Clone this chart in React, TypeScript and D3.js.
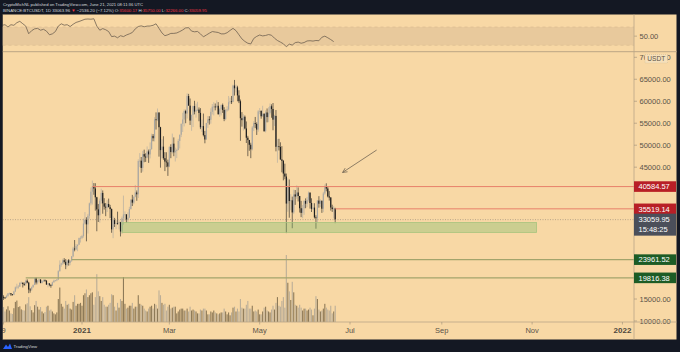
import React from 'react';
import * as d3 from 'd3';

const W = 680;
const H = 352;

// daily candles [open, high, low, close], first candle 2020-11-08
const nov2020 = [
  [14820, 15650, 14700, 15480], [15480, 15850, 14800, 15330], [15330, 15480, 15100, 15300],
  [15300, 15960, 15280, 15700], [15700, 16350, 15440, 16280], [16280, 16480, 15960, 16320],
  [16320, 16320, 15710, 16070], [16070, 16140, 15800, 15960], [15960, 16880, 15870, 16720],
  [16720, 17860, 16560, 17660], [17660, 18480, 17220, 17800], [17800, 18180, 17350, 17820],
  [17820, 18820, 17760, 18660], [18660, 18970, 18420, 18710], [18710, 18760, 17620, 18420],
  [18420, 18770, 18000, 18370], [18370, 19420, 18020, 19160], [19160, 19490, 18570, 18730],
  [18730, 18920, 16330, 17150], [17150, 17470, 16440, 17140], [17140, 17880, 16880, 17720],
  [17720, 18340, 17520, 18180], [18180, 19860, 18180, 19700],
];
const dec2020 = [
  [19700, 19920, 18320, 18760], [18760, 19340, 18330, 19220], [19220, 19600, 18870, 19420],
  [19420, 19520, 18570, 18650], [18650, 19180, 18500, 19150], [19150, 19420, 18860, 19360],
  [19360, 19400, 18900, 19170], [19170, 19290, 18200, 18320], [18320, 18640, 17650, 18550],
  [18550, 18560, 17910, 18250], [18250, 18290, 17570, 18030], [18030, 18950, 18020, 18800],
  [18800, 19410, 18730, 19170], [19170, 19350, 19000, 19270], [19270, 19570, 19050, 19430],
  [19430, 21560, 19300, 21340], [21340, 23800, 21230, 22800], [22800, 23280, 22350, 23110],
  [23110, 24170, 22750, 23820], [23820, 24300, 23060, 23450], [23450, 24100, 21800, 22720],
  [22720, 23840, 22350, 23810], [23810, 24100, 22600, 23230], [23230, 23790, 22700, 23730],
  [23730, 24790, 23430, 24710], [24710, 26870, 24500, 26490], [26490, 28420, 25850, 26280],
  [26280, 27500, 26100, 27040], [27040, 27390, 25880, 27360], [27360, 28990, 27320, 28880],
  [28880, 29300, 27850, 28920],
];
const jan2021 = [
  [28920, 29600, 28620, 29330], [29330, 33300, 28950, 32180], [32180, 34780, 31960, 33000],
  [33000, 33600, 28130, 31990], [31990, 34360, 29900, 33950], [33950, 36940, 33290, 36770],
  [36770, 40370, 36300, 39430], [39430, 41950, 36500, 40580], [40580, 41380, 38720, 40150],
  [40150, 41350, 35110, 38150], [38150, 38260, 30420, 35400], [35400, 36630, 32530, 34050],
  [34050, 37850, 32380, 37370], [37370, 40100, 36700, 39140], [39140, 39700, 34410, 36770],
  [36770, 37950, 35360, 36010], [36010, 36850, 33850, 35800], [35800, 37470, 34800, 36630],
  [36630, 37850, 35900, 35890], [35890, 36420, 33400, 35470], [35470, 35600, 30070, 30850],
  [30850, 33830, 28850, 32950], [32950, 33460, 31390, 32080], [32080, 32950, 30900, 32260],
  [32260, 34880, 31910, 32250], [32250, 32920, 30840, 32470], [32470, 32560, 29240, 30360],
  [30360, 33780, 29840, 33370], [33370, 38530, 31920, 34250], [34250, 34930, 32830, 34260],
  [34260, 34290, 32300, 33110],
];
const feb2021 = [
  [33110, 34720, 32300, 33520], [33520, 35980, 33420, 35470], [35470, 37660, 35360, 37620],
  [37620, 38700, 36160, 36930], [36930, 38310, 36570, 38290], [38290, 40960, 38140, 39250],
  [39250, 39700, 37350, 38830], [38830, 46790, 37990, 46400], [46400, 48200, 45020, 46480],
  [46480, 47310, 43730, 44830], [44830, 48700, 43990, 47970], [47970, 48990, 46130, 47410],
  [47410, 48150, 46200, 47200], [47200, 49710, 47050, 48580], [48580, 49000, 45980, 47910],
  [47910, 50620, 47000, 49130], [49130, 52620, 48950, 52120], [52120, 52540, 50900, 51580],
  [51580, 56370, 50850, 55880], [55880, 57460, 53560, 55840], [55840, 58350, 55480, 57410],
  [57410, 57530, 47400, 54090], [54090, 54180, 44890, 48890], [48890, 51380, 47000, 49670],
  [49670, 52040, 46680, 47050], [47050, 48420, 44110, 46280], [46280, 48390, 45000, 46090],
  [46090, 46720, 43020, 45140],
];
const mar2021 = [
  [45140, 49790, 45000, 49590], [49590, 50200, 47050, 48440], [48440, 52640, 48100, 50350],
  [50350, 51770, 47500, 48370], [48370, 49450, 46300, 48760], [48760, 49200, 47070, 48880],
  [48880, 51450, 48880, 50970], [50970, 52400, 49270, 52380], [52380, 54900, 51850, 54880],
  [54880, 57390, 53000, 55850], [55850, 58150, 54270, 57770], [57770, 58060, 55000, 57220],
  [57220, 61790, 56080, 61190], [61190, 61680, 59000, 59000], [59000, 60630, 54600, 55600],
  [55600, 56940, 53270, 56900], [56900, 58980, 54120, 58910], [58910, 60100, 57020, 57650],
  [57650, 59470, 56270, 58030], [58030, 59880, 57820, 58100], [58100, 58590, 55450, 57350],
  [57350, 58430, 53650, 54080], [54080, 55840, 53000, 54340], [54340, 57200, 52000, 52300],
  [52300, 53240, 50430, 51300], [51300, 55090, 51260, 55050], [55050, 56640, 53950, 55880],
  [55880, 56600, 54690, 55780], [55780, 58400, 54900, 57600], [57600, 59370, 57000, 58760],
  [58760, 59800, 56770, 58800],
];
const apr2021 = [
  [58800, 59490, 57930, 58740], [58740, 60200, 58440, 58970], [58970, 59800, 56950, 57060],
  [57060, 58500, 56480, 58200], [58200, 59250, 56790, 59130], [59130, 59480, 57350, 58020],
  [58020, 58650, 55470, 55950], [55950, 58150, 55700, 58080], [58080, 58870, 57650, 58130],
  [58130, 61200, 57870, 59770], [59770, 60800, 59370, 59980], [59980, 61200, 59370, 59860],
  [59860, 63770, 59800, 63580], [63580, 64850, 61300, 62960], [62960, 63800, 62020, 63160],
  [63160, 63520, 60000, 61330], [61330, 62500, 59580, 60000], [60000, 60400, 51000, 56150],
  [56150, 57530, 54220, 55700], [55700, 57050, 53330, 56470], [56470, 56760, 53600, 53800],
  [53800, 55400, 50500, 51700], [51700, 52130, 47500, 51190], [51190, 51200, 48730, 50100],
  [50100, 50560, 47050, 49060], [49060, 54360, 48800, 54030], [54030, 55460, 53220, 55030],
  [55030, 56430, 53880, 54840], [54840, 55200, 52330, 53560], [53560, 58000, 53070, 57700],
];
const may2021 = [
  [57700, 58450, 57050, 57800], [57800, 57920, 56030, 56580], [56580, 58970, 56480, 57170],
  [57170, 57200, 53050, 53200], [53200, 57940, 52900, 57440], [57440, 58360, 55200, 56400],
  [56400, 58650, 55240, 57360], [57360, 59500, 56970, 58860], [58860, 59300, 56240, 58240],
  [58240, 59600, 53400, 55810], [55810, 56900, 54370, 56670], [56670, 58000, 48600, 49630],
  [49630, 51370, 46000, 49760], [49760, 51450, 48800, 49600], [49600, 50660, 46660, 46760],
  [46760, 49790, 43830, 46430], [46430, 46640, 42000, 43540], [43540, 45800, 42250, 42870],
  [42870, 43550, 30000, 36720], [36720, 42450, 34850, 40590], [40590, 42200, 33500, 37300],
  [37300, 38850, 35200, 37460], [37460, 38300, 31110, 34700], [34700, 39900, 34400, 38800],
  [38800, 39800, 36420, 38320], [38320, 40850, 37800, 39240], [39240, 40400, 37200, 38440],
  [38440, 38450, 34680, 35660], [35660, 37340, 33630, 34600], [34600, 36400, 33380, 35650],
  [35650, 37500, 34150, 37300],
];
const jun2021 = [
  [37300, 37900, 35660, 36690], [36690, 38220, 35920, 37570], [37570, 39480, 37170, 39190],
  [39190, 39290, 35570, 36850], [36850, 37920, 34800, 35520], [35520, 36800, 35260, 35800],
  [35800, 36790, 33330, 33590], [33590, 34070, 31000, 33400], [33400, 37530, 32400, 37390],
  [37390, 38400, 35780, 36690], [36690, 37690, 35940, 37340], [37340, 37440, 34600, 35550],
  [35550, 39380, 34760, 39020], [39020, 41060, 38730, 40520], [40520, 41330, 39510, 40140],
  [40140, 40530, 38120, 38350], [38350, 39560, 37400, 38090], [38090, 38200, 35130, 35820],
  [35820, 36460, 34820, 35480], [35480, 36140, 33340, 35600], [35600, 35750, 32266, 33060],
];

// daily volume, thousands of BTC, same days as the candles
const volNov2020 = [62, 78, 55, 66, 82, 60, 45, 42, 72, 105, 112, 78, 82, 66, 62, 60, 92, 98, 130, 82, 62, 50, 88];
const volDec2020 = [110, 80, 65, 78, 55, 45, 52, 80, 85, 60, 65, 55, 45, 40, 50, 120, 180, 95, 80, 70, 110, 90, 95, 70, 65, 105, 140, 85, 95, 95, 100];
const volJan2021 = [85, 140, 150, 170, 130, 140, 150, 155, 90, 130, 250, 160, 135, 110, 130, 90, 80, 80, 90, 100, 145, 140, 80, 60, 100, 75, 120, 110, 235, 95, 70];
const volFeb2021 = [75, 85, 85, 100, 70, 80, 80, 140, 95, 90, 85, 70, 60, 55, 70, 80, 85, 70, 95, 90, 70, 165, 140, 100, 90, 95, 60, 80];
const volMar2021 = [90, 70, 75, 80, 80, 45, 55, 65, 70, 70, 60, 60, 70, 55, 80, 60, 65, 60, 55, 45, 45, 65, 60, 70, 70, 60, 40, 40, 55, 50, 60];
const volApr2021 = [50, 45, 40, 45, 50, 50, 70, 55, 40, 50, 35, 50, 75, 80, 55, 70, 55, 120, 75, 70, 70, 90, 110, 70, 70, 85, 55, 60, 55, 65];
const volMay2021 = [40, 40, 55, 75, 80, 60, 55, 50, 65, 85, 65, 100, 130, 85, 80, 110, 130, 75, 350, 205, 160, 115, 210, 155, 90, 85, 75, 90, 75, 60, 70];
const volJun2021 = [70, 60, 65, 75, 65, 35, 70, 135, 120, 65, 55, 60, 70, 95, 75, 65, 60, 85, 45, 55, 85];

// RSI read every 2 days from 2020-11-08
const rsiValues = [
  73.7, 75, 70, 75, 73.7, 79.4, 82.4, 77.2, 72, 55.3,
  62, 66, 67, 63, 65, 61, 53, 55, 60, 72,
  77, 74, 75, 71, 76, 80, 82, 84.5, 87, 87.5,
  87, 88, 72, 63, 66.5, 64, 60, 49, 50, 46.5,
  51, 49, 52.5, 55, 58, 66, 71, 72.5, 70.5, 72,
  72.1, 73.7, 77, 67, 57, 51, 53, 56, 56, 57,
  60, 63.5, 68, 68.5, 61, 59.5, 60.3, 55, 48.5, 52.5,
  56.5, 60, 59, 58, 55, 55, 57.5, 62.5, 67, 62,
  53, 44, 38.5, 34.5, 33, 45, 49.5, 52.5, 50.5, 51.5,
  53.5, 52, 45.5, 40.5, 37, 33.3, 26.8, 32.5, 30.5, 35.8,
  37, 34.5, 36, 39.5, 40, 39.2, 40.5, 40, 47.5, 50,
  46.5, 42.5, 38,
];

const priceTicks = [70000, 65000, 60000, 55000, 50000, 45000, 40000, 35000, 30000, 25000, 20000, 15000, 10000];
// tick labels hidden behind the price tags in the original
const hiddenTickLabels = [40000, 35000, 30000, 25000, 20000];
const timeTickLabels = ['9', '2021', 'Mar', 'May', 'Jul', 'Sep', 'Nov', '2022'];
const timeTickDates = ['2020-11-09', '2021-01-01', '2021-03-01', '2021-05-01', '2021-07-01', '2021-09-01', '2021-11-01', '2022-01-01'];

// header lines, second line as [text, red?] runs
const headerTitle = 'CryptoMichNL published on TradingView.com, June 21, 2021 08:11:36 UTC';
const headerParts: [string, boolean][] = [
  ['BINANCE:BTCUSDT, 1D 33063.96 ', false],
  ['▼', true],
  [' −2536.20 (−7.12%) O:', false],
  ['35600.17', true],
  [' H:', false],
  ['35750.00', true],
  [' L:', false],
  ['32266.00', true],
  [' C:', false],
  ['33059.95', true],
];

// drawn levels
const redLevels = [
  { price: 40584.57, from: '2021-01-08' },
  { price: 35519.14, from: '2021-06-21' },
];
const greenLevels = [
  { price: 23961.52, from: '2020-12-25' },
  { price: 19816.38, from: '2020-11-24' },
];
const zone = { from: '2021-01-28', to: '2021-11-04', top: 32420, bottom: 30150 };
const arrow = { from: ['2021-07-19', 48900], to: ['2021-06-26', 43800] };
const lastPrice = 33059.95;
const countdown = '15:48:25';

const DAY = 86400000;
const START = Date.UTC(2020, 10, 8);
const d = (s: string) => new Date(s + 'T00:00:00Z');

const allCandles = [...nov2020, ...dec2020, ...jan2021, ...feb2021, ...mar2021, ...apr2021, ...may2021, ...jun2021];
const allVolume = [...volNov2020, ...volDec2020, ...volJan2021, ...volFeb2021, ...volMar2021, ...volApr2021, ...volMay2021, ...volJun2021];

const BG = '#F8D8A5';
const DARK = '#141823';
const AXIS_TXT = '#5A5348';
const FONT = '"Liberation Sans", Arial, sans-serif';

const App: React.FC = () => {
  const plotL = 2.5, plotR = 634, plotT = 52, plotB = 322;

  const x = d3.scaleUtc().domain([d('2021-01-01'), d('2021-07-01')]).range([82, 350]);
  const y = d3.scaleLinear().domain([10000, 70000]).range([321, 57.3]);
  const yVol = d3.scaleLinear().domain([0, 350]).range([322, 255]);
  const yRsi = d3.scaleLinear().domain([30, 70]).range([45.3, 27]);

  const candles = allCandles.map((c, i) => ({ date: new Date(START + i * DAY), o: c[0], h: c[1], l: c[2], c: c[3], v: allVolume[i] }));
  const rsi = rsiValues.map((v, i) => ({ date: new Date(START + i * 2 * DAY), v }));
  const rsiLine = d3.line<{ date: Date; v: number }>().x(p => x(p.date)).y(p => yRsi(p.v));

  const upCol = '#A9A7A2';
  const downCol = '#1E1E1E';
  const upVol = '#8E7A58';
  const downVol = '#BBAE98';

  const ax = x(d(arrow.from[0] as string)), ay = y(arrow.from[1] as number);
  const bx = x(d(arrow.to[0] as string)), by = y(arrow.to[1] as number);
  const ang = Math.atan2(ay - by, ax - bx);
  const headLen = 5;
  const h1 = [bx + headLen * Math.cos(ang + 0.45), by + headLen * Math.sin(ang + 0.45)];
  const h2 = [bx + headLen * Math.cos(ang - 0.45), by + headLen * Math.sin(ang - 0.45)];

  const priceLabel = (v: number) => v.toFixed(2);

  return (
    <div style={{ position: 'absolute', left: 0, top: 0 }}>
      <svg width={W} height={H} viewBox={`0 0 ${W} ${H}`} style={{ display: 'block' }} fontFamily={FONT}>
        <defs>
          <clipPath id="plot"><rect x={plotL} y={plotT} width={plotR - plotL} height={plotB - plotT} /></clipPath>
          <clipPath id="rsi"><rect x={plotL} y={14.5} width={plotR - plotL} height={37} /></clipPath>
        </defs>
        <rect x={0} y={0} width={W} height={H} fill={DARK} />
        <rect x={2.5} y={14.5} width={674} height={325} fill={BG} />

        {/* header */}
        <text x={3} y={5.6} fontSize={4.2} fill="#D6D8DE">{headerTitle}</text>
        <text x={3} y={12.2} fontSize={4.3} fill="#D6D8DE" xmlSpace="preserve">
          {headerParts.map(([t, red], i) => (
            <tspan key={i} fill={red ? '#F23645' : '#D6D8DE'}>{t}</tspan>
          ))}
        </text>

        {/* RSI pane */}
        <rect x={plotL} y={yRsi(70)} width={plotR - plotL} height={yRsi(30) - yRsi(70)} fill="#E8C99C" />
        <line x1={plotL} x2={plotR} y1={yRsi(70)} y2={yRsi(70)} stroke="#D7B98E" strokeWidth={0.6} strokeDasharray="3,3" />
        <line x1={plotL} x2={plotR} y1={yRsi(30)} y2={yRsi(30)} stroke="#D7B98E" strokeWidth={0.6} strokeDasharray="3,3" />
        <path d={rsiLine(rsi) || ''} fill="none" stroke="#6E6150" strokeWidth={0.8} clipPath="url(#rsi)" />
        <line x1={2.5} x2={676.5} y1={51.6} y2={51.6} stroke="#C7AF8B" strokeWidth={1.2} />
        <line x1={plotR} x2={plotR + 3} y1={yRsi(50)} y2={yRsi(50)} stroke="#9C8D77" strokeWidth={0.6} />
        <text x={639.5} y={yRsi(50) + 2.6} fontSize={7.5} fill={AXIS_TXT}>50.00</text>

        {/* main pane */}
        <g clipPath="url(#plot)">
          {candles.map((c, i) => (
            <rect key={'v' + i} x={x(c.date) - 0.55} width={1.1} y={yVol(c.v)} height={plotB - yVol(c.v)}
              fill={c.c >= c.o ? upVol : downVol} />
          ))}
          {candles.map((c, i) => {
            const cx = x(c.date);
            const col = c.c >= c.o ? upCol : downCol;
            const top = y(Math.max(c.o, c.c));
            const bot = y(Math.min(c.o, c.c));
            return (
              <g key={'c' + i}>
                <line x1={cx} x2={cx} y1={y(c.h)} y2={y(c.l)} stroke={col} strokeWidth={0.6} />
                <rect x={cx - 0.6} width={1.2} y={top} height={Math.max(0.8, bot - top)} fill={col} />
              </g>
            );
          })}

          <line x1={plotL} x2={plotR} y1={y(lastPrice)} y2={y(lastPrice)} stroke="#8E8476" strokeWidth={0.6} strokeDasharray="1,1.5" />

          <rect x={x(d(zone.from))} y={y(zone.top)} width={x(d(zone.to)) - x(d(zone.from))} height={y(zone.bottom) - y(zone.top)}
            fill="rgba(130,190,110,0.38)" stroke="#A8C47E" strokeWidth={0.8} />

          {redLevels.map(l => (
            <line key={l.price} x1={x(d(l.from))} x2={plotR} y1={y(l.price)} y2={y(l.price)} stroke="#E8806A" strokeWidth={1} />
          ))}
          {greenLevels.map(l => (
            <line key={l.price} x1={x(d(l.from))} x2={plotR} y1={y(l.price)} y2={y(l.price)} stroke="#A3A46C" strokeWidth={1.1} />
          ))}

          <line x1={ax} y1={ay} x2={bx} y2={by} stroke="#5E5448" strokeWidth={0.7} />
          <polyline points={`${h1[0]},${h1[1]} ${bx},${by} ${h2[0]},${h2[1]}`} fill="none" stroke="#5E5448" strokeWidth={0.7} />
        </g>

        {/* price axis */}
        <line x1={plotR} x2={plotR} y1={14.5} y2={339.5} stroke="#B9A688" strokeWidth={0.8} />
        {priceTicks.map(t => (
          <g key={t}>
            <line x1={plotR} x2={plotR + 3} y1={y(t)} y2={y(t)} stroke="#9C8D77" strokeWidth={0.6} />
            {!hiddenTickLabels.includes(t) && (
              <text x={639.5} y={y(t) + 2.6} fontSize={7.5} fill={AXIS_TXT}>{priceLabel(t)}</text>
            )}
          </g>
        ))}
        <rect x={645} y={54.5} width={22.5} height={8.5} fill="#F6E0BA" stroke="#CDB995" strokeWidth={0.5} strokeDasharray="1,1" />
        <text x={656.2} y={61.3} fontSize={6.6} fill={AXIS_TXT} textAnchor="middle">USDT</text>

        {redLevels.map(l => (
          <g key={'lab' + l.price}>
            <rect x={plotR} y={y(l.price) - 5.3} width={42} height={10.6} fill="#B81F26" />
            <text x={638.5} y={y(l.price) + 2.7} fontSize={7.5} fill="#FFFFFF">{priceLabel(l.price)}</text>
          </g>
        ))}
        <rect x={plotR} y={y(lastPrice) - 6} width={42} height={22} fill="#4B4F5A" />
        <text x={638.5} y={y(lastPrice) + 2.7} fontSize={7.5} fill="#FFFFFF">{priceLabel(lastPrice)}</text>
        <text x={638.5} y={y(lastPrice) + 12.6} fontSize={7.5} fill="#FFFFFF">{countdown}</text>
        {greenLevels.map(l => (
          <g key={'lab' + l.price}>
            <rect x={plotR} y={y(l.price) - 5.3} width={42} height={10.6} fill="#1D5C25" />
            <text x={638.5} y={y(l.price) + 2.7} fontSize={7.5} fill="#FFFFFF">{priceLabel(l.price)}</text>
          </g>
        ))}

        {/* time axis */}
        <line x1={plotL} x2={676.5} y1={plotB} y2={plotB} stroke="#B9A688" strokeWidth={0.8} />
        {timeTickDates.map((s, i) => {
          const tx = x(d(s));
          const isYear = /^\d{4}$/.test(timeTickLabels[i]);
          return (
            <g key={s}>
              <line x1={tx} x2={tx} y1={plotB} y2={plotB + 2.5} stroke="#9C8D77" strokeWidth={0.6} />
              <text x={tx} y={333} fontSize={isYear ? 8 : 7.5} fontWeight={isYear ? 'bold' : 'normal'}
                fill={isYear ? '#4E473D' : AXIS_TXT} textAnchor="middle">{timeTickLabels[i]}</text>
            </g>
          );
        })}
        <rect x={0} y={14.5} width={2.5} height={325} fill={DARK} />

        {/* footer */}
        <path d="M3,349 L6,344.5 L8,347 L10,343.5 L12,349 Z" fill="#2962FF" />
        <text x={13.5} y={348.3} fontSize={4.3} fill="#D6D8DE">TradingView</text>
      </svg>
    </div>
  );
};

export default App;
